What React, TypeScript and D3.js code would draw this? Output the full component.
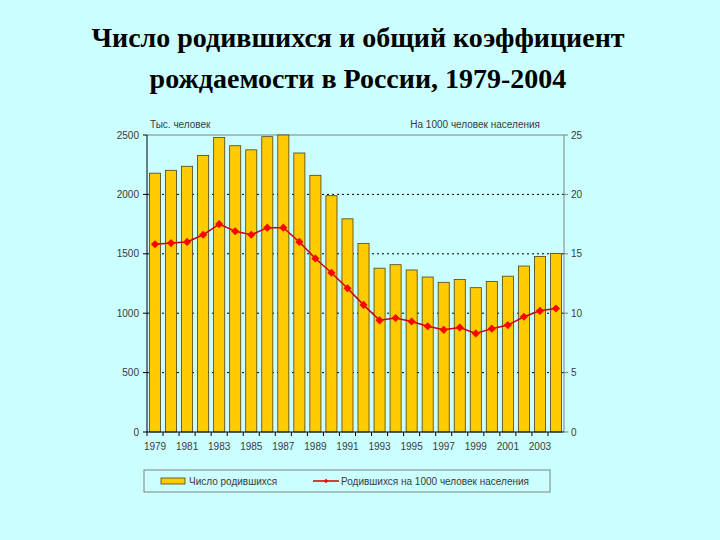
import React from "react";
import * as d3 from "d3";

const years = [1979,1980,1981,1982,1983,1984,1985,1986,1987,1988,1989,1990,1991,1992,1993,1994,1995,1996,1997,1998,1999,2000,2001,2002,2003,2004];
const births = [2178.5,2202.8,2236.6,2328.0,2478.3,2409.6,2375.1,2485.9,2500.0,2348.5,2160.6,1988.9,1794.6,1587.6,1378.9,1408.2,1363.8,1304.6,1259.9,1283.3,1214.7,1266.8,1311.6,1397.0,1477.3,1502.5];
const rate = [15.8,15.9,16.0,16.6,17.5,16.9,16.6,17.2,17.2,16.0,14.6,13.4,12.1,10.7,9.4,9.6,9.3,8.9,8.6,8.8,8.3,8.7,9.0,9.7,10.2,10.4];
const leftTicks = [0,500,1000,1500,2000,2500];
const rightTicks = [0,5,10,15,20,25];
const titleLines = ["Число родившихся и общий коэффициент", "рождаемости в России, 1979-2004"];
const leftAxisTitle = "Тыс. человек";
const rightAxisTitle = "На 1000 человек населения";
const legendBar = "Число родившихся";
const legendLine = "Родившихся на 1000 человек населения";

export default function App() {
  const W = 720, H = 540;
  const L = 147, R = 564, T = 135, B = 432;
  const x = d3.scaleBand<number>().domain(years).range([L, R]).paddingInner(0.31).paddingOuter(0.155);
  const yL = d3.scaleLinear().domain([0, 2500]).range([B, T]);
  const yR = d3.scaleLinear().domain([0, 25]).range([B, T]);
  const line = d3.line<number>().x((_, i) => x(years[i])! + x.bandwidth() / 2).y(d => yR(d));
  const diamond = d3.symbol().type(d3.symbolDiamond2).size(42)();
  const axisFont = "'Liberation Sans', Arial, sans-serif";
  const axisColor = "#3a3a3a";

  return (
    <svg width={W} height={H} style={{ position: "absolute", left: 0, top: 0 }}>
      <rect x={0} y={0} width={W} height={H} fill="#CCFFFF" />
      {titleLines.map((t, i) => (
        <text key={i} x={358} y={47 + i * 41} textAnchor="middle" fontFamily="'Liberation Serif', 'Times New Roman', serif" fontWeight="bold" fontSize={28} fill="#000">{t}</text>
      ))}
      {/* gridlines */}
      {leftTicks.filter(v => v > 0 && v < 2500).map(v => (
        <line key={v} x1={L} x2={R} y1={yL(v)} y2={yL(v)} stroke="#000" strokeWidth={1} strokeDasharray="2,3" />
      ))}
      {/* plot border */}
      <line x1={L} x2={R} y1={T} y2={T} stroke="#808080" strokeWidth={1} />
      <line x1={R} x2={R} y1={T} y2={B} stroke="#808080" strokeWidth={1} />
      {/* bars */}
      {births.map((v, i) => (
        <rect key={i} x={x(years[i])} y={yL(v)} width={x.bandwidth()} height={B - yL(v)} fill="#FFCC00" stroke="#4a4020" strokeWidth={0.8} />
      ))}
      {/* axes */}
      <line x1={L} x2={L} y1={T} y2={B} stroke="#000" strokeWidth={1} />
      <line x1={L} x2={R} y1={B} y2={B} stroke="#000" strokeWidth={1} />
      {leftTicks.map(v => (
        <g key={v}>
          <line x1={L - 4} x2={L} y1={yL(v)} y2={yL(v)} stroke="#000" />
          <text x={L - 8} y={yL(v) + 3.5} textAnchor="end" fontFamily={axisFont} fontSize={10} fill={axisColor}>{v}</text>
        </g>
      ))}
      {rightTicks.map(v => (
        <g key={v}>
          <line x1={R} x2={R + 4} y1={yR(v)} y2={yR(v)} stroke="#808080" />
          <text x={R + 7} y={yR(v) + 3.5} textAnchor="start" fontFamily={axisFont} fontSize={10} fill={axisColor}>{v}</text>
        </g>
      ))}
      {years.map((yr) => (
        <line key={yr} x1={x(yr)! - (x.step() - x.bandwidth()) / 2} x2={x(yr)! - (x.step() - x.bandwidth()) / 2} y1={B} y2={B + 4} stroke="#000" />
      ))}
      {years.filter((_, i) => i % 2 === 0).map(yr => (
        <text key={yr} x={x(yr)! + x.bandwidth() / 2} y={450} textAnchor="middle" fontFamily={axisFont} fontSize={10} fill={axisColor}>{yr}</text>
      ))}
      <text x={150} y={128} fontFamily={axisFont} fontSize={10} fill={axisColor}>{leftAxisTitle}</text>
      <text x={540} y={128} textAnchor="end" fontFamily={axisFont} fontSize={10} fill={axisColor}>{rightAxisTitle}</text>
      {/* line */}
      <path d={line(rate) || ""} fill="none" stroke="#CC0000" strokeWidth={1.5} />
      {rate.map((v, i) => (
        <path key={i} d={diamond || ""} transform={`translate(${x(years[i])! + x.bandwidth() / 2},${yR(v)})`} fill="#FF0000" />
      ))}
      {/* legend */}
      <rect x={144} y={470} width={406} height={22} fill="none" stroke="#808080" strokeWidth={1} />
      <rect x={161} y={478} width={24} height={6} fill="#FFCC00" stroke="#4a4020" strokeWidth={0.8} />
      <text x={189} y={484.5} fontFamily={axisFont} fontSize={10} fill={axisColor}>{legendBar}</text>
      <line x1={313} x2={339} y1={481} y2={481} stroke="#CC0000" strokeWidth={1.5} />
      <path d={d3.symbol().type(d3.symbolDiamond2).size(14)() || ""} transform="translate(326,481)" fill="#FF0000" />
      <text x={341} y={484.5} fontFamily={axisFont} fontSize={10} fill={axisColor}>{legendLine}</text>
    </svg>
  );
}
